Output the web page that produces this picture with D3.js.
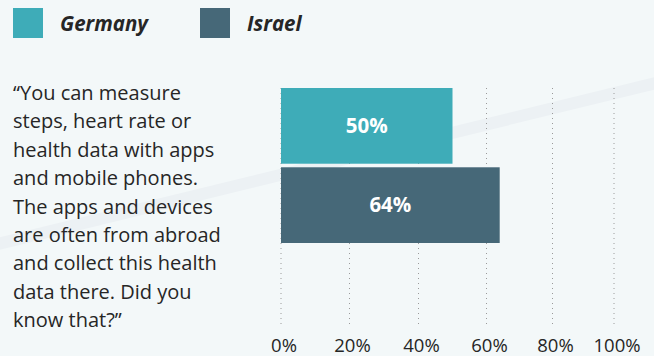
<!DOCTYPE html>
<html>
<head>
<meta charset="utf-8">
<script src="https://cdn.jsdelivr.net/npm/d3@7"></script>
<style>
  html, body { margin: 0; padding: 0; background: #f3f8f9; }
  svg { display: block; }
</style>
</head>
<body>
<script>

// data
var countries = ["Germany", "Israel"];
var values = [50, 64];
var colors = ["#3eacb8", "#466878"];
var tickValues = [0, 20, 40, 60, 80, 100];
var tickLabels = ["0%", "20%", "40%", "60%", "80%", "100%"];
var quoteLines = [
    "\u201CYou can measure",
    "steps, heart rate or",
    "health data with apps",
    "and mobile phones.",
    "The apps and devices",
    "are often from abroad",
    "and collect this health",
    "data there. Did you",
    "know that?\u201D"
];

var W = 654, H = 356;
var font = "'Open Sans', 'Noto Sans', sans-serif";

var svg = d3.select("body")
    .append("svg")
        .attr("width", W)
        .attr("height", H);

svg.append("rect")
    .attr("width", W)
    .attr("height", H)
    .attr("fill", "#f3f8f9");

// faint diagonal band in the background
svg.append("line")
    .attr("x1", -10).attr("y1", 246)
    .attr("x2", W + 10).attr("y2", 81)
    .attr("stroke", "#ecf1f4")
    .attr("stroke-width", 12);

// legend
var legend = svg.selectAll("g.legend")
    .data(countries)
    .enter()
    .append("g")
        .attr("class", "legend")
        .attr("transform", function (d, i) { return "translate(" + (13 + i * 187) + ",8)"; });

legend.append("rect")
    .attr("width", 30)
    .attr("height", 30)
    .attr("fill", function (d, i) { return colors[i]; });

legend.append("text")
    .attr("x", 47)
    .attr("y", 23)
    .style("font-family", font)
    .style("font-size", "20.5px")
    .style("font-weight", "bold")
    .style("font-style", "italic")
    .style("fill", "#262626")
    .text(function (d) { return d; });

// quote
svg.append("text")
    .attr("x", 13)
    .attr("y", 100)
    .style("font-family", font)
    .style("font-size", "20px")
    .style("fill", "#262626")
    .selectAll("tspan")
    .data(quoteLines)
    .enter()
    .append("tspan")
        .attr("x", 13)
        .attr("dy", function (d, i) { return i === 0 ? 0 : 28.4; })
        .text(function (d) { return d; });

// scales (the original grid is not evenly spaced)
var x = d3.scaleLinear()
    .domain(tickValues)
    .range([281, 349.5, 418.5, 486.5, 552.5, 614]);

var y = d3.scaleBand()
    .domain(countries)
    .range([88, 243])
    .paddingInner(0.045);

// grid
svg.append("g")
    .selectAll("line")
    .data(tickValues)
    .enter()
    .append("line")
        .attr("x1", function (d) { return x(d); })
        .attr("x2", function (d) { return x(d); })
        .attr("y1", 88)
        .attr("y2", 326)
        .attr("stroke", "#9a9a9a")
        .attr("stroke-width", 1)
        .attr("stroke-dasharray", "1,4");

// axis labels
svg.append("g")
    .selectAll("text")
    .data(tickValues)
    .enter()
    .append("text")
        .attr("x", function (d) { return x(d) + 3; })
        .attr("y", 352)
        .attr("text-anchor", "middle")
        .style("font-family", font)
        .style("font-size", "18.5px")
        .style("fill", "#262626")
        .text(function (d, i) { return tickLabels[i]; });

// bars
var bars = svg.selectAll("g.bar")
    .data(countries)
    .enter()
    .append("g")
        .attr("class", "bar");

bars.append("rect")
    .attr("x", x(0))
    .attr("y", function (d) { return y(d); })
    .attr("width", function (d, i) { return x(values[i]) - x(0); })
    .attr("height", y.bandwidth())
    .attr("fill", function (d, i) { return colors[i]; });

bars.append("text")
    .attr("x", function (d, i) { return (x(0) + x(values[i])) / 2; })
    .attr("y", function (d) { return y(d) + y.bandwidth() / 2 + 7; })
    .attr("text-anchor", "middle")
    .style("font-family", font)
    .style("font-size", "20.5px")
    .style("font-weight", "bold")
    .style("fill", "#ffffff")
    .text(function (d, i) { return values[i] + "%"; });

</script>
</body>
</html>
